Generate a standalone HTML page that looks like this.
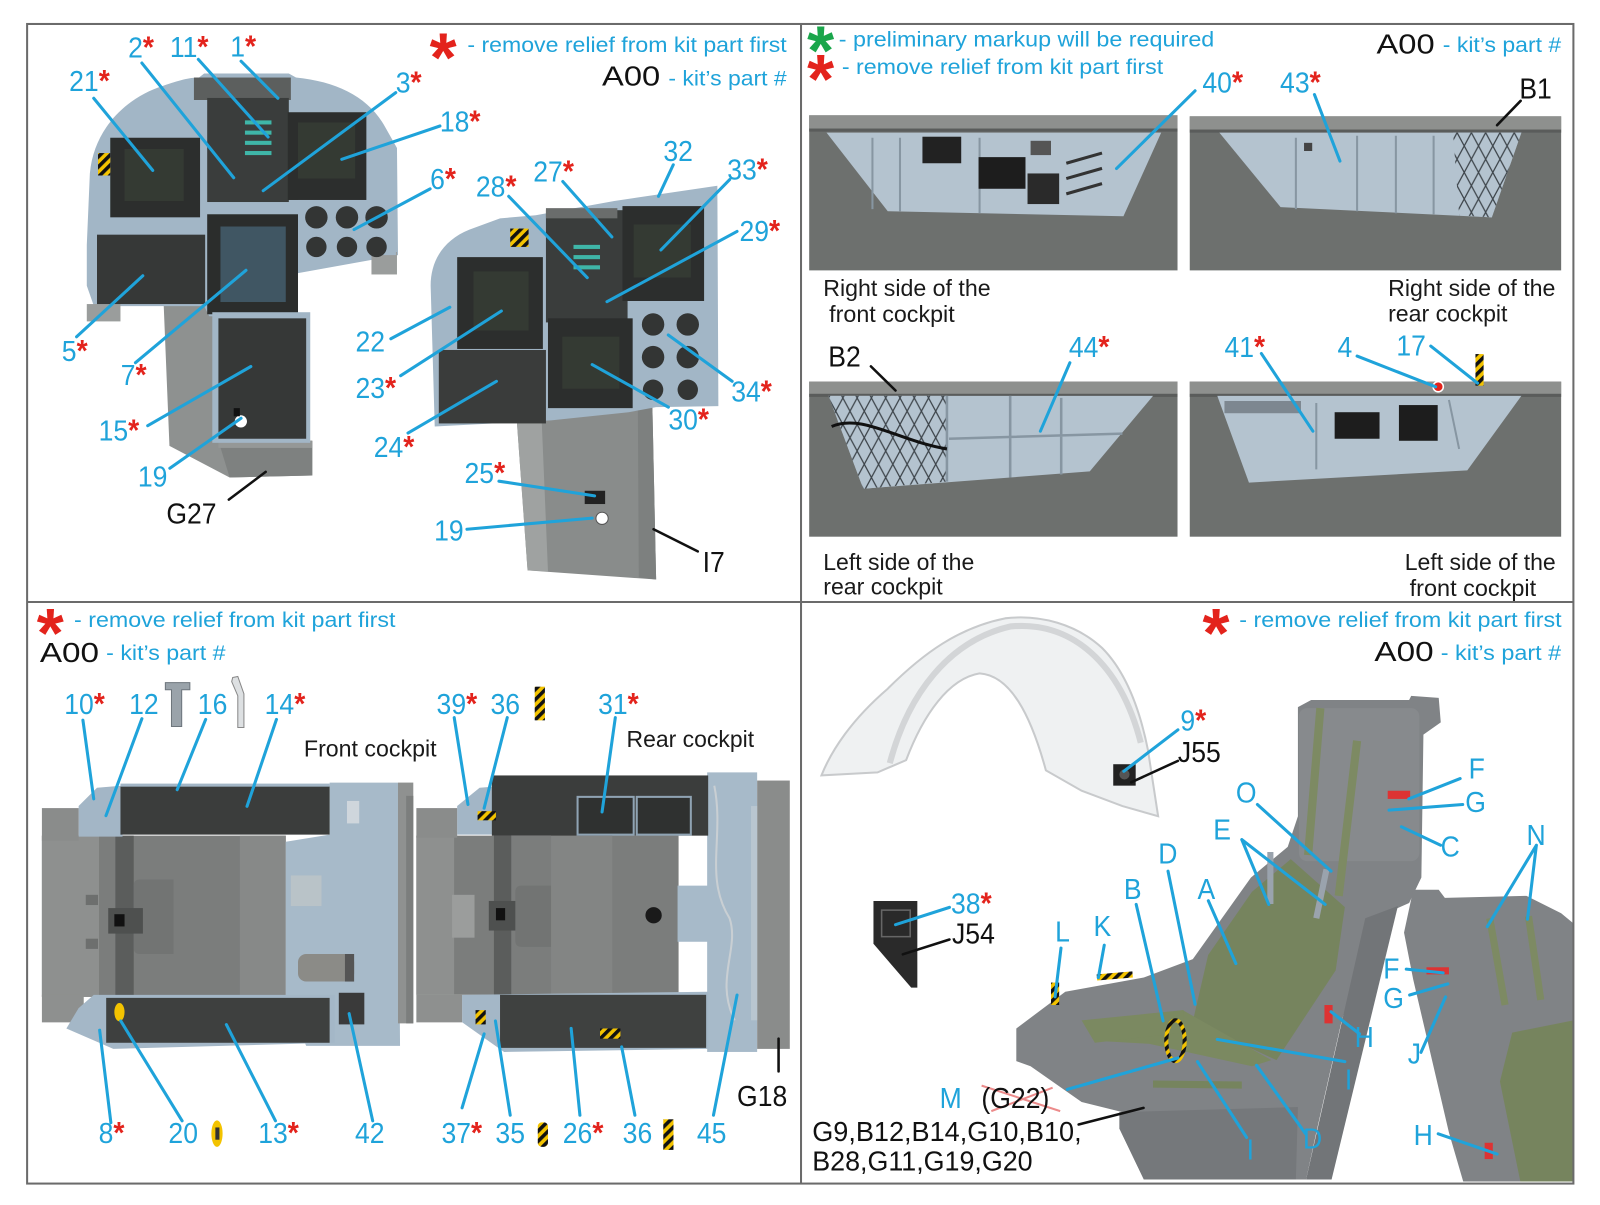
<!DOCTYPE html>
<html><head><meta charset="utf-8">
<style>
html,body{margin:0;padding:0;background:#fff}
svg{display:block}
text{font-family:"Liberation Sans",Arial,sans-serif}
.n{font-size:28px;fill:#1fa3da}
.k{fill:#111}
.r{fill:#e3231c;font-weight:bold;font-size:30px}
.t{font-size:21px;fill:#1fa3da}
.d{font-size:22.5px;fill:#1a1a1a}
.a{font-size:27.5px;fill:#111}
.bl{stroke:#1fa3da;stroke-width:3;fill:none;stroke-linecap:round}
.kl{stroke:#111;stroke-width:2.5;fill:none;stroke-linecap:round}
.big{font-size:68px;font-weight:bold}
</style></head><body>
<svg width="1600" height="1205" viewBox="0 0 1568 1181" xmlns="http://www.w3.org/2000/svg">
<defs>
<pattern id="hx" width="14" height="26" patternUnits="userSpaceOnUse"><rect width="14" height="26" fill="#b4c3cf"/><path d="M0 0L14 26M14 0L0 26" stroke="#3d444a" stroke-width="1.2"/></pattern>
<pattern id="hz" width="7" height="7" patternUnits="userSpaceOnUse" patternTransform="rotate(45)"><rect width="7" height="7" fill="#f3c300"/><rect width="3.5" height="7" fill="#111"/></pattern>
</defs>
<rect width="1568" height="1181" fill="#fff"/>

<!-- ============ Q1 ============ -->
<!-- left panel column -->
<path d="M160,290 L214,290 L214,432 L306,432 L306,466 L225,468 L166,437 Z" fill="#8e9190"/>
<path d="M214,432 L306,432 L306,466 L225,468 Z" fill="#7e8180"/>
<rect x="214" y="432" width="92" height="7" fill="#959897"/>
<path d="M92,300 L85,280 L85,240 L88,170 C92,125 125,95 160,84 C175,79 185,76 195,76 L200,72 L283,72 L290,76 C330,80 360,95 376,122 L389,145 L390,250 L290,268 L290,310 L205,310 L200,300 Z" fill="#a2b6c6"/>
<rect x="85" y="298" width="33" height="17" fill="#9a9d9c"/>
<rect x="364" y="247" width="25" height="22" fill="#9a9d9c"/>
<rect x="190" y="76" width="95" height="22" fill="#5c5f5e"/>
<rect x="203" y="96" width="80" height="102" fill="#3a3d3c"/>
<rect x="240" y="118" width="26" height="4" fill="#3fb6a8"/><rect x="240" y="128" width="26" height="4" fill="#3fb6a8"/><rect x="240" y="138" width="26" height="4" fill="#3fb6a8"/><rect x="240" y="148" width="26" height="4" fill="#3fb6a8"/>
<rect x="108" y="135" width="88" height="78" fill="#2c2e2d"/>
<rect x="122" y="146" width="58" height="51" fill="#343a33"/>
<rect x="282" y="110" width="77" height="86" fill="#2c2e2d"/>
<rect x="292" y="120" width="56" height="55" fill="#343a33"/>
<rect x="95" y="230" width="106" height="68" fill="#363837"/>
<rect x="96" y="150" width="12" height="22" fill="url(#hz)"/>
<rect x="292" y="196" width="96" height="54" fill="#a2b6c6"/>
<g fill="#333534"><circle cx="310" cy="213" r="11"/><circle cx="340" cy="213" r="11"/><circle cx="369" cy="213" r="11"/><circle cx="310" cy="242" r="10"/><circle cx="340" cy="242" r="10"/><circle cx="369" cy="242" r="10"/></g>
<rect x="203" y="210" width="89" height="98" fill="#2b2d2c"/>
<rect x="216" y="222" width="64" height="74" fill="#405663"/>
<rect x="208" y="306" width="96" height="128" fill="#a2b6c6"/>
<rect x="214" y="312" width="86" height="118" fill="#363837"/>
<circle cx="236" cy="413" r="6" fill="#fff"/>
<rect x="229" y="400" width="6" height="8" fill="#111"/>

<!-- right panel -->
<path d="M505,392 L639,384 L643,568 L517,559 Z" fill="#898c8b"/>
<path d="M505,392 L530,392 L537,560 L517,559 Z" fill="#9fa2a1"/>
<path d="M625,385 L639,384 L643,568 L626,566 Z" fill="#7d807f"/>
<rect x="573" y="481" width="20" height="13" fill="#222"/>
<circle cx="590" cy="508" r="6" fill="#fff" stroke="#555" stroke-width="1"/>
<path d="M426,418 L422,280 C422,255 435,235 460,225 L490,214 L525,211 L602,197 L703,182 L704,398 L643,399 L616,404 L540,412 Z" fill="#a2b6c6"/>
<rect x="535" y="206" width="80" height="110" fill="#3a3d3c"/>
<rect x="535" y="204" width="70" height="10" fill="#6a6d6c"/>
<rect x="562" y="240" width="26" height="4" fill="#3fb6a8"/><rect x="562" y="250" width="26" height="4" fill="#3fb6a8"/><rect x="562" y="260" width="26" height="4" fill="#3fb6a8"/>
<rect x="448" y="252" width="84" height="90" fill="#2c2e2d"/>
<rect x="464" y="266" width="54" height="58" fill="#343a33"/>
<rect x="610" y="202" width="80" height="93" fill="#2c2e2d"/>
<rect x="621" y="220" width="56" height="52" fill="#343a33"/>
<rect x="537" y="312" width="83" height="88" fill="#2c2e2d"/>
<rect x="551" y="330" width="56" height="51" fill="#343a33"/>
<rect x="430" y="343" width="105" height="72" fill="#3a3c3b"/>
<g fill="#333534"><circle cx="640" cy="318" r="11"/><circle cx="674" cy="318" r="11"/><circle cx="640" cy="350" r="11"/><circle cx="674" cy="350" r="11"/><circle cx="640" cy="382" r="10"/><circle cx="674" cy="382" r="10"/></g>
<rect x="500" y="224" width="18" height="18" fill="url(#hz)"/>

<!-- Q1 text -->
<text class="big" x="421" y="80" fill="#e3231c">*</text>
<text class="t" x="458" y="51" textLength="313" lengthAdjust="spacingAndGlyphs">- remove relief from kit part first</text>
<text class="a" x="590" y="84" textLength="57" lengthAdjust="spacingAndGlyphs">A00</text>
<text class="t" x="655" y="84" textLength="116" lengthAdjust="spacingAndGlyphs">- kit’s part #</text>

<path class="bl" d="M91.8,96.3L149.6,167M139,61.8L229,174.2M194.3,58.2L262.7,134.3M236.2,60L272.3,96.3M387.8,90.8L257.9,186.9M431.1,123.5L334.9,156.1M421.5,185.1L346.9,225M75,330.1L139.9,270.3M132.7,355.5L241,264.9M144.7,417.2L245.8,359.2M166.4,458.9L236.2,409.9M498.5,192.4L575.5,272.1M551.5,177.9L599.6,232.2M659.8,161.5L645.3,192.4M715.1,176L647.7,245M722.3,226.8L594.8,295.7M383,332L440.8,301.1M392.6,368.2L491.3,304.8M399.8,424.4L486.5,373.7M717.5,373.7L654.9,328.3M655,399L580.3,357.3M488.9,471.6L582.7,486M457.6,518.7L580.3,507.8"/>
<path class="kl" d="M224.2,489.7L260.3,462.5M683.8,540.4L640.5,518.7"/>

<text class="n" transform="translate(67.7 89) scale(.93 1)">21<tspan class="r">*</tspan></text>
<text class="n" transform="translate(125.5 56.4) scale(.93 1)">2<tspan class="r">*</tspan></text>
<text class="n" transform="translate(166.4 56) scale(.93 1)">11<tspan class="r">*</tspan></text>
<text class="n" transform="translate(225.6 55.5) scale(.93 1)">1<tspan class="r">*</tspan></text>
<text class="n" transform="translate(387.8 90.8) scale(.93 1)">3<tspan class="r">*</tspan></text>
<text class="n" transform="translate(431 129) scale(.93 1)">18<tspan class="r">*</tspan></text>
<text class="n" transform="translate(421.5 185) scale(.93 1)">6<tspan class="r">*</tspan></text>
<text class="n" transform="translate(466.3 192.4) scale(.93 1)">28<tspan class="r">*</tspan></text>
<text class="n" transform="translate(522.6 177.9) scale(.93 1)">27<tspan class="r">*</tspan></text>
<text class="n" transform="translate(650.1 157.9) scale(.93 1)">32</text>
<text class="n" transform="translate(712.7 176) scale(.93 1)">33<tspan class="r">*</tspan></text>
<text class="n" transform="translate(724.7 236) scale(.93 1)">29<tspan class="r">*</tspan></text>
<text class="n" transform="translate(60.5 353.7) scale(.93 1)">5<tspan class="r">*</tspan></text>
<text class="n" transform="translate(118.3 377.3) scale(.93 1)">7<tspan class="r">*</tspan></text>
<text class="n" transform="translate(348.3 344.6) scale(.93 1)">22</text>
<text class="n" transform="translate(348.3 390) scale(.93 1)">23<tspan class="r">*</tspan></text>
<text class="n" transform="translate(716.6 393.6) scale(.93 1)">34<tspan class="r">*</tspan></text>
<text class="n" transform="translate(655 420.8) scale(.93 1)">30<tspan class="r">*</tspan></text>
<text class="n" transform="translate(366.2 448) scale(.93 1)">24<tspan class="r">*</tspan></text>
<text class="n" transform="translate(96.6 431.7) scale(.93 1)">15<tspan class="r">*</tspan></text>
<text class="n" transform="translate(135.1 477) scale(.93 1)">19</text>
<text class="n k" transform="translate(163 513.2) scale(.93 1)">G27</text>
<text class="n" transform="translate(455.2 473.4) scale(.93 1)">25<tspan class="r">*</tspan></text>
<text class="n" transform="translate(425.4 529.6) scale(.93 1)">19</text>
<text class="n k" transform="translate(688.6 560.4) scale(.93 1)">I7</text>

<!-- ============ Q2 ============ -->
<text class="big" x="791" y="73" fill="#1aa64b">*</text>
<text class="t" x="822" y="45.5" textLength="368" lengthAdjust="spacingAndGlyphs">- preliminary markup will be required</text>
<text class="big" x="791" y="101" fill="#e3231c">*</text>
<text class="t" x="825" y="72.7" textLength="315" lengthAdjust="spacingAndGlyphs">- remove relief from kit part first</text>
<text class="a" x="1349" y="52.5" textLength="57" lengthAdjust="spacingAndGlyphs">A00</text>
<text class="t" x="1414" y="51" textLength="116" lengthAdjust="spacingAndGlyphs">- kit’s part #</text>

<!-- P1 -->
<rect x="793" y="113" width="361" height="152" fill="#6d706e"/>
<rect x="793" y="113" width="361" height="13" fill="#8e908e"/>
<rect x="793" y="126" width="361" height="3" fill="#5a5c5b"/>
<path d="M810,130 L1138,130 L1101,212 L870,207 Z" fill="#b4c3cf"/>
<path d="M855,135 L855,205 M882,135 L882,207 M960,135 L960,209" stroke="#8796a2" stroke-width="2"/>
<rect x="904" y="134" width="38" height="26" fill="#222"/>
<rect x="959" y="154" width="46" height="31" fill="#1d1d1d"/>
<rect x="1007" y="170" width="31" height="30" fill="#2a2a2a"/>
<rect x="1010" y="138" width="20" height="14" fill="#555"/>
<path d="M1045,160 L1080,150 M1045,175 L1080,165 M1045,190 L1080,180" stroke="#333" stroke-width="3"/>
<!-- P2 -->
<rect x="1166" y="114" width="364" height="151" fill="#6d706e"/>
<rect x="1166" y="114" width="364" height="13" fill="#8e908e"/>
<rect x="1166" y="127" width="364" height="3" fill="#5a5c5b"/>
<path d="M1195,130 L1491,130 L1462,213 L1255,203 Z" fill="#b4c3cf"/>
<path d="M1424,130 L1491,130 L1462,213 L1430,211 Z" fill="url(#hx)"/>
<path d="M1270,135 L1270,205 M1330,133 L1330,207 M1368,133 L1368,209 M1405,133 L1405,210" stroke="#8796a2" stroke-width="2"/>
<rect x="1278" y="140" width="8" height="8" fill="#444"/>
<!-- P3 -->
<rect x="793" y="374" width="361" height="152" fill="#6d706e"/>
<rect x="793" y="374" width="361" height="12" fill="#8e908e"/>
<rect x="793" y="386" width="361" height="3" fill="#5a5c5b"/>
<path d="M812,388 L1130,388 L1068,462 L846,479 Z" fill="#b4c3cf"/>
<path d="M812,388 L928,388 L928,472 L846,479 Z" fill="url(#hx)"/>
<path d="M928,388 L928,472 M990,388 L990,468 M1040,390 L1040,465 M930,430 L1100,425" stroke="#8796a2" stroke-width="2.5"/>
<path d="M815,418 C845,405 880,432 928,440" stroke="#111" stroke-width="3" fill="none"/>
<!-- P4 -->
<rect x="1166" y="374" width="364" height="152" fill="#6d706e"/>
<rect x="1166" y="374" width="364" height="12" fill="#8e908e"/>
<rect x="1166" y="386" width="364" height="3" fill="#5a5c5b"/>
<path d="M1193,388 L1491,388 L1438,461 L1224,473 Z" fill="#b4c3cf"/>
<rect x="1308" y="404" width="44" height="26" fill="#1d1d1d"/>
<rect x="1371" y="397" width="38" height="35" fill="#1d1d1d"/>
<rect x="1200" y="393" width="75" height="12" fill="#7d8790"/>
<path d="M1290,395 L1290,460 M1420,392 L1430,440" stroke="#8796a2" stroke-width="2"/>
<circle cx="1409.5" cy="379" r="5" fill="#e3231c" stroke="#fff" stroke-width="1.5"/>
<rect x="1446" y="347" width="8" height="31" fill="url(#hz)"/>

<path class="bl" d="M1171.2,89L1094.2,165.2M1288.2,92.7L1313.2,157.9M1048.5,355.5L1019.6,422.6M1236.2,346.5L1286.7,422.6M1330,349L1407,379.1M1402.2,339.2L1448,375.5"/>
<path class="kl" d="M1490.3,98.8L1467.2,122.7M853.5,359.1L877.6,382.7"/>
<text class="n" transform="translate(1178.4 90.8) scale(.93 1)">40<tspan class="r">*</tspan></text>
<text class="n" transform="translate(1254.5 90.8) scale(.93 1)">43<tspan class="r">*</tspan></text>
<text class="n k" transform="translate(1489 96.3) scale(.93 1)">B1</text>
<text class="n k" transform="translate(811.7 359.1) scale(.93 1)">B2</text>
<text class="n" transform="translate(1047.5 350.1) scale(.93 1)">44<tspan class="r">*</tspan></text>
<text class="n" transform="translate(1200 350) scale(.93 1)">41<tspan class="r">*</tspan></text>
<text class="n" transform="translate(1310.8 350) scale(.93 1)">4</text>
<text class="n" transform="translate(1368.5 348.3) scale(.93 1)">17</text>

<text class="d" x="806.8" y="290.3" textLength="164" lengthAdjust="spacingAndGlyphs">Right side of the</text>
<text class="d" x="812.6" y="315.6" textLength="123" lengthAdjust="spacingAndGlyphs">front cockpit</text>
<text class="d" x="1360.4" y="290.3" textLength="164" lengthAdjust="spacingAndGlyphs">Right side of the</text>
<text class="d" x="1360.4" y="315" textLength="117" lengthAdjust="spacingAndGlyphs">rear cockpit</text>
<text class="d" x="806.8" y="558.6" textLength="148" lengthAdjust="spacingAndGlyphs">Left side of the</text>
<text class="d" x="806.8" y="582.5" textLength="117" lengthAdjust="spacingAndGlyphs">rear cockpit</text>
<text class="d" x="1376.7" y="558.6" textLength="148" lengthAdjust="spacingAndGlyphs">Left side of the</text>
<text class="d" x="1381.5" y="584" textLength="124" lengthAdjust="spacingAndGlyphs">front cockpit</text>

<!-- ============ Q3 ============ -->
<text class="big" x="36" y="644" fill="#e3231c">*</text>
<text class="t" x="72.5" y="614.5" textLength="315" lengthAdjust="spacingAndGlyphs">- remove relief from kit part first</text>
<text class="a" x="39" y="649" textLength="58" lengthAdjust="spacingAndGlyphs">A00</text>
<text class="t" x="104" y="647" textLength="117" lengthAdjust="spacingAndGlyphs">- kit’s part #</text>

<!-- front tub -->
<rect x="41" y="819" width="239" height="158" fill="#7b7d7c"/>
<rect x="41" y="819" width="56" height="158" fill="#8e908f"/>
<rect x="235" y="819" width="45" height="158" fill="#878988"/>
<rect x="113" y="819" width="18" height="158" fill="#5b5d5c"/>
<path d="M131,868 Q131,862 137,862 L170,862 L170,935 L137,935 Q131,935 131,929 Z" fill="#727473"/>
<rect x="106" y="890" width="34" height="25" fill="#4e504f"/>
<rect x="112" y="896" width="10" height="12" fill="#111"/>
<rect x="84" y="877" width="12" height="10" fill="#6d6f6e"/><rect x="84" y="920" width="12" height="10" fill="#6d6f6e"/>
<path d="M323,767 L390,767 L392,1025 L300,1025 L280,977 L280,825 L323,818 Z" fill="#a7bac9"/>
<rect x="390" y="767" width="15" height="236" fill="#8f9190"/>
<rect x="398" y="780" width="7" height="223" fill="#7c7e7d"/>
<rect x="292" y="935" width="55" height="27" rx="8" fill="#8b8b87"/>
<rect x="338" y="935" width="9" height="27" fill="#555"/>
<rect x="340" y="785" width="12" height="22" fill="#cfd6dc"/>
<rect x="285" y="858" width="30" height="30" fill="#b9c3c8"/>
<path d="M77,790 L95,772 L120,770 L120,820 L77,820 Z" fill="#a3b6c6"/>
<rect x="118" y="770" width="205" height="48" fill="#3b3d3c"/>
<rect x="118" y="768" width="205" height="3" fill="#a3b6c6"/>
<rect x="41" y="792" width="36" height="32" fill="#8a8c8b"/>
<rect x="41" y="975" width="41" height="27" fill="#8e908f"/>
<path d="M91.8,975 L328,975 L328,1022 L111,1028 L65,1008 L77,988 Z" fill="#a4b7c7"/>
<rect x="104" y="978" width="219" height="44" fill="#3e403f"/>
<rect x="332" y="973" width="25" height="31" fill="#3a3a3a"/>
<ellipse cx="117" cy="992" rx="5" ry="9" fill="#f3c300"/>

<!-- rear tub -->
<rect x="408" y="819" width="257" height="156" fill="#7b7d7c"/>
<rect x="408" y="819" width="37" height="156" fill="#8e908f"/>
<rect x="540" y="819" width="60" height="156" fill="#838584"/>
<rect x="443" y="877" width="22" height="42" fill="#9b9d9c"/>
<rect x="484" y="819" width="17" height="156" fill="#5b5d5c"/>
<rect x="479" y="883" width="34" height="29" fill="#4e504f"/>
<rect x="486" y="890" width="9" height="12" fill="#111"/>
<path d="M505,874 Q505,868 511,868 L540,868 L540,928 L511,928 Q505,928 505,922 Z" fill="#727473"/>
<circle cx="640.5" cy="897" r="8" fill="#1a1a1a"/>
<rect x="664" y="868" width="30" height="55" fill="#a7bac9"/>
<rect x="693" y="757" width="49" height="274" fill="#a7bac9"/>
<path d="M700,770 C710,820 690,860 715,900 C725,930 700,960 720,1000" stroke="#c9cfd3" stroke-width="2" fill="none"/>
<rect x="742" y="765" width="32" height="263" fill="#8a8c8b"/>
<rect x="736" y="790" width="6" height="210" fill="#b9c6d0"/>
<path d="M448,790 L470,772 L496,770 L496,818 L448,818 Z" fill="#a3b6c6"/>
<rect x="482" y="760" width="212" height="59" fill="#3b3d3c"/>
<rect x="566" y="781" width="55" height="37" fill="#2f3130" stroke="#8fa3b3" stroke-width="2"/>
<rect x="624" y="781" width="53" height="37" fill="#2f3130" stroke="#8fa3b3" stroke-width="2"/>
<rect x="408" y="792" width="40" height="29" fill="#8a8c8b"/>
<rect x="408" y="975" width="45" height="27" fill="#8e908f"/>
<path d="M452.8,975 L694,972 L694,1028 L494,1031 L453,1002 Z" fill="#a4b7c7"/>
<rect x="490" y="975" width="202" height="52" fill="#3f4140"/>
<rect x="588" y="1008" width="20" height="10" fill="url(#hz)"/>
<rect x="468" y="795" width="18" height="9" fill="url(#hz)"/>
<rect x="466" y="990" width="10" height="14" fill="url(#hz)"/>

<!-- Q3 icons -->
<path d="M162,669 L186,669 L186,676 L178,676 L178,712 L168,712 L168,676 L162,676 Z" fill="#9aa3aa" stroke="#6d757c" stroke-width="1"/>
<path d="M228,664 L233,663 L239,680 L239,713 L233,713 L233,682 L227,668 Z" fill="#dde0e2" stroke="#888" stroke-width="1"/>
<rect x="524" y="673" width="10" height="33" fill="url(#hz)"/>
<ellipse cx="212.6" cy="1111" rx="5.5" ry="13" fill="#f3c300"/>
<rect x="211" y="1105" width="4" height="12" fill="#333"/>
<rect x="527" y="1100" width="10" height="24" rx="4" fill="url(#hz)"/>
<rect x="650" y="1097" width="10" height="30" fill="url(#hz)"/>

<path class="bl" d="M81.2,705.8L91.8,783M139,704.4L103.8,799.4M201.5,705.1L173.6,774M270.9,705.1L242,790.3M445.1,703.3L458.6,788.5M497.1,703.3L474.4,792.1M603,703.3L590,795.8M108.6,1100.3L97.6,1009.7M178.4,1098.5L118.3,1000.6M269.9,1098.5L221.8,1004.2M365.2,1098.5L342.1,993.4M452.8,1085.8L474.4,1013.3M500,1093L485.5,1000.6M568.3,1093L559.7,1007.9M622.2,1093L609.2,1026M699.2,1093L722.3,975.2"/>
<path class="kl" d="M763,1018L763,1050"/>

<text class="n" transform="translate(62.9 699.7) scale(.93 1)">10<tspan class="r">*</tspan></text>
<text class="n" transform="translate(126.5 699.7) scale(.93 1)">12</text>
<text class="n" transform="translate(193.8 699.7) scale(.93 1)">16</text>
<text class="n" transform="translate(259.3 699.7) scale(.93 1)">14<tspan class="r">*</tspan></text>
<text class="n" transform="translate(427.8 699.7) scale(.93 1)">39<tspan class="r">*</tspan></text>
<text class="n" transform="translate(480.7 699.7) scale(.93 1)">36</text>
<text class="n" transform="translate(586.1 699.7) scale(.93 1)">31<tspan class="r">*</tspan></text>
<text class="n" transform="translate(96.6 1120.3) scale(.93 1)">8<tspan class="r">*</tspan></text>
<text class="n" transform="translate(165 1120.3) scale(.93 1)">20</text>
<text class="n" transform="translate(253 1120.3) scale(.93 1)">13<tspan class="r">*</tspan></text>
<text class="n" transform="translate(347.9 1120.3) scale(.93 1)">42</text>
<text class="n" transform="translate(432.6 1120.3) scale(.93 1)">37<tspan class="r">*</tspan></text>
<text class="n" transform="translate(485.5 1120.3) scale(.93 1)">35</text>
<text class="n" transform="translate(551.5 1120.3) scale(.93 1)">26<tspan class="r">*</tspan></text>
<text class="n" transform="translate(610.2 1120.3) scale(.93 1)">36</text>
<text class="n" transform="translate(682.9 1120.3) scale(.93 1)">45</text>
<text class="n k" transform="translate(722.3 1084) scale(.93 1)">G18</text>
<text class="d" x="297.8" y="741.4" textLength="130" lengthAdjust="spacingAndGlyphs">Front cockpit</text>
<text class="d" x="614" y="732.3" textLength="125" lengthAdjust="spacingAndGlyphs">Rear cockpit</text>

<!-- ============ Q4 ============ -->
<text class="big" x="1178.5" y="644" fill="#e3231c">*</text>
<text class="t" x="1214.5" y="614.5" textLength="316" lengthAdjust="spacingAndGlyphs">- remove relief from kit part first</text>
<text class="a" x="1347" y="648" textLength="58" lengthAdjust="spacingAndGlyphs">A00</text>
<text class="t" x="1412" y="647" textLength="118" lengthAdjust="spacingAndGlyphs">- kit’s part #</text>

<!-- canopy -->
<path d="M805,760 C815,735 835,705 870,675 C905,640 940,615 985,606 C1020,602 1055,612 1080,635 C1105,660 1118,700 1125,735 L1135,800 L1100,790 L1060,775 L1025,755 C1010,700 990,662 960,660 C930,665 905,700 888,745 L860,757 Z" fill="#eff1f2" stroke="#c8cacc" stroke-width="2"/>
<path d="M872,748 C890,680 930,628 990,614 C1050,608 1098,650 1118,728" stroke="#d3d5d7" stroke-width="6" fill="none"/>
<rect x="1091" y="749" width="22" height="21" fill="#222"/>
<circle cx="1102" cy="759" r="5" fill="#555"/>
<!-- J54 -->
<path d="M856,883 L899,883 L899,968 L893,968 L856,925 Z" fill="#2a2a2a"/>
<rect x="864" y="892" width="28" height="26" fill="none" stroke="#666" stroke-width="1.5"/>

<!-- big seat -->
<path d="M1272,693 L1285,686 L1381,686 L1383,682 L1410,684 L1412,708 L1395,720 L1393,860 L1381,885 L1347,900 L1315,1000 L1290,1110 L1280,1156 L1121,1156 L1097,1106 L1100,1090 L1060,1080 L1010,1045 L996,1040 L996,1008 L1044,972 L1121,958 L1169,940 L1226,860 L1262,830 L1272,800 Z" fill="#808386"/>
<path d="M1338,900 L1370,888 L1305,1156 L1280,1156 Z" fill="#727578"/>
<path d="M1097,1090 L1272,1085 L1270,1156 L1121,1156 L1097,1106 Z" fill="#75787b"/>
<rect x="1273" y="694" width="118" height="150" rx="8" fill="#878a8d"/>
<path d="M1294,694 L1282,838 M1330,726 L1312,878" stroke="#7d8a63" stroke-width="8"/>
<path d="M1265,842 L1318,889 L1309,951 L1251,1039 L1169,1001 L1184,936 L1227,874 Z" fill="#76845e"/>
<path d="M1063,1005 L1159,990 L1246,1039 L1227,1045 L1126,1023 L1073,1020 Z" fill="#7b8961"/>
<path d="M1130,1059 L1217,1060 L1217,1067 L1130,1066 Z" fill="#76845e"/>
<path d="M1060,1000 L1160,990 L1160,1012 L1073,1022 Z" fill="#7b8961"/>
<ellipse cx="1152" cy="1020" rx="9" ry="20" fill="none" stroke="url(#hz)" stroke-width="4"/>
<rect x="1030" y="963" width="8" height="22" fill="url(#hz)"/>
<path d="M1075,958 L1110,955" stroke="url(#hz)" stroke-width="6"/>
<path d="M1245,835 L1245,886 M1300,852 L1290,900" stroke="#9aa3ad" stroke-width="6"/>
<rect x="1360" y="775" width="22" height="8" fill="#d33"/>
<rect x="1298" y="985" width="8" height="18" fill="#d33"/>
<!-- right seat -->
<path d="M1385,872 L1410,872 L1416,880 L1496,878 L1530,895 L1542,905 L1542,1158 L1434,1158 L1420,1110 L1385,960 L1376,914 Z" fill="#808386"/>
<path d="M1482,1012 L1542,1000 L1542,1158 L1490,1158 L1470,1060 Z" fill="#76845e"/>
<path d="M1460,900 L1475,985 M1498,898 L1510,980" stroke="#7d8a63" stroke-width="7"/>
<rect x="1398" y="948" width="22" height="7" fill="#d33"/>
<rect x="1455" y="1120" width="8" height="16" fill="#d33"/>

<path d="M962,1064 L1039,1089 M971.5,1089 L1031.6,1066" stroke="#ec8b8b" stroke-width="2"/>

<path class="bl" d="M1154.4,715.3L1101.4,755.9M930.5,889.3L877.6,906.3M1431,763.1L1380.6,783M1433.5,788.5L1361.3,794M1411.9,828.4L1373.4,810.3M1232.3,788.5L1304.5,853.8M1217,822.9L1243.4,886.4M1217,822.9L1298.7,886.4M1144.7,853.8L1171.2,984.3M1113.5,886.4L1139.9,1000.6M1184.2,882.8L1211.2,944.4M1039.8,929.2L1034,977M1082.2,926.3L1076.4,958.2M1505.7,828.4L1457.6,908.2M1505.7,828.4L1497,900.9M1378.2,949.8L1414.3,953.5M1381.5,975.2L1419,964.3M1392.6,1031.4L1416.7,977M1332.4,1013.3L1304.5,991.6M1318,1040.5L1192.9,1018.7M1046,1067.7L1154.4,1036.9M1221.7,1114.8L1173.6,1040.5M1279.5,1111.2L1231.4,1044.1M1409.5,1111.2L1467.2,1131.1"/>
<path class="kl" d="M1154.4,745.7L1108.6,766.7M930.5,920.8L884.8,935.3M1057.1,1102.1L1120.7,1085.8"/>

<text class="n" transform="translate(1156.8 716) scale(.93 1)">9<tspan class="r">*</tspan></text>
<text class="n k" transform="translate(1154.4 746.8) scale(.93 1)">J55</text>
<text class="n" transform="translate(932 895.5) scale(.93 1)">38<tspan class="r">*</tspan></text>
<text class="n k" transform="translate(933 924.5) scale(.93 1)">J54</text>
<text class="n" transform="translate(1439.3 763) scale(.93 1)">F</text>
<text class="n" transform="translate(1436 795.8) scale(.93 1)">G</text>
<text class="n" transform="translate(1411.9 839.3) scale(.93 1)">C</text>
<text class="n" transform="translate(1211.2 786.7) scale(.93 1)">O</text>
<text class="n" transform="translate(1189 823) scale(.93 1)">E</text>
<text class="n" transform="translate(1135.1 846.5) scale(.93 1)">D</text>
<text class="n" transform="translate(1101.4 881) scale(.93 1)">B</text>
<text class="n" transform="translate(1173.6 881) scale(.93 1)">A</text>
<text class="n" transform="translate(1034 922.6) scale(.93 1)">L</text>
<text class="n" transform="translate(1071.6 917.2) scale(.93 1)">K</text>
<text class="n" transform="translate(1496 828.4) scale(.93 1)">N</text>
<text class="n" transform="translate(1355.6 958.9) scale(.93 1)">F</text>
<text class="n" transform="translate(1355.6 988) scale(.93 1)">G</text>
<text class="n" transform="translate(1379.6 1042.3) scale(.93 1)">J</text>
<text class="n" transform="translate(1327.6 1026) scale(.93 1)">H</text>
<text class="n" transform="translate(1318 1067.7) scale(.93 1)">I</text>
<text class="n" transform="translate(920.9 1085.8) scale(.93 1)">M</text>
<text class="n k" transform="translate(961.8 1085.8) scale(.93 1)">(G22)</text>
<text class="n" transform="translate(1277 1125.7) scale(.93 1)">D</text>
<text class="n" transform="translate(1221.7 1136.6) scale(.93 1)">I</text>
<text class="n" transform="translate(1385.4 1122) scale(.93 1)">H</text>
<text x="796" y="1118.5" style="font-size:27px;fill:#111" textLength="264" lengthAdjust="spacingAndGlyphs">G9,B12,B14,G10,B10,</text>
<text x="796" y="1147" style="font-size:27px;fill:#111" textLength="216" lengthAdjust="spacingAndGlyphs">B28,G11,G19,G20</text>

<!-- frame -->
<rect x="26.5" y="23.5" width="1515.5" height="1136.5" fill="none" stroke="#6b6b6b" stroke-width="2"/>
<line x1="785" y1="23.5" x2="785" y2="1160" stroke="#6b6b6b" stroke-width="2"/>
<line x1="26.5" y1="590" x2="1542" y2="590" stroke="#6b6b6b" stroke-width="2"/>
</svg>
</body></html>
